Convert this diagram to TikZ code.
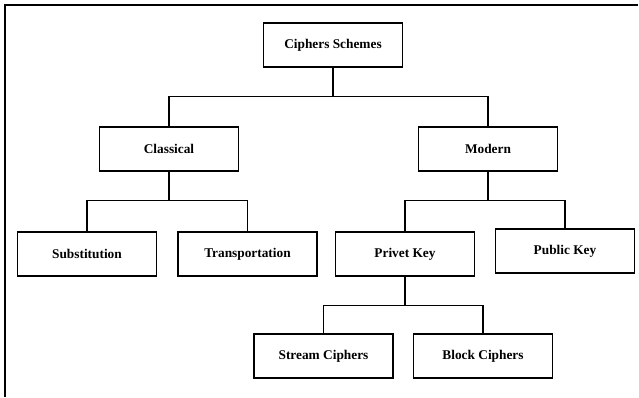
\documentclass[tikz,border=0pt]{standalone}
\usepackage{fontspec}
\setmainfont{Liberation Serif}
\begin{document}
\begin{tikzpicture}[x=0.75pt,y=0.75pt,
  box/.style={draw, line width=1.2pt, minimum width=104pt, minimum height=33pt,
    inner sep=2pt, font=\fontsize{10}{12}\selectfont\bfseries},
  link/.style={draw, line width=1pt}]
\useasboundingbox (0,0) rectangle (639,-397);
\draw[line width=1.2pt] (5,-397) -- (5,-5) -- (638,-5);

\node[box] (cs) at (333,-45) {Ciphers Schemes};
\node[box] (classical) at (169,-149) {Classical};
\node[box] (modern) at (488,-149) {Modern};
\node[box] (subst) at (87,-254) {Substitution};
\node[box] (transp) at (247.5,-254) {Transportation};
\node[box] (privet) at (405,-254) {Privet Key};
\node[box] (public) at (565,-251) {Public Key};
\node[box] (stream) at (323.5,-356) {Stream Ciphers};
\node[box] (block) at (483,-356) {Block Ciphers};

\path[link] (cs.south) -- ++(0,-29) -| (classical.north);
\path[link] (cs.south) -- ++(0,-29) -| (modern.north);
\path[link] (classical.south) -- ++(0,-29) -| (subst.north);
\path[link] (classical.south) -- ++(0,-29) -| (transp.north);
\path[link] (modern.south) -- ++(0,-29) -| (privet.north);
\path[link] (modern.south) -- ++(0,-29) -| (public.north);
\path[link] (privet.south) -- ++(0,-29) -| (stream.north);
\path[link] (privet.south) -- ++(0,-29) -| (block.north);
\end{tikzpicture}
\end{document}
